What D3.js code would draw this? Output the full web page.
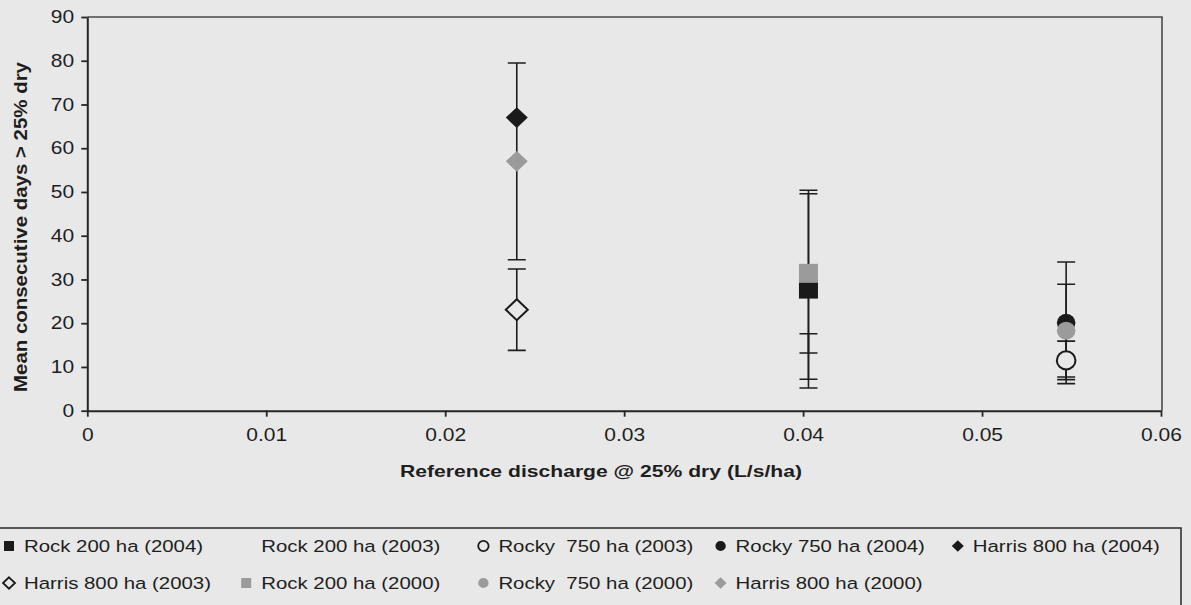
<!DOCTYPE html>
<html>
<head>
<meta charset="utf-8">
<script src="https://cdn.jsdelivr.net/npm/d3@7"></script>
<style>
  html, body { margin: 0; padding: 0; background: #e8e8e8; overflow: hidden; }
  svg { display: block; }
  text { font-family: "Liberation Sans", Arial, sans-serif; fill: #1e1e1e; }
</style>
</head>
<body>
<svg id="chart" width="1191" height="605"></svg>
<script>
// ---------------- data ----------------
const seriesNames = [
  "Rock 200 ha (2004)", "Rock 200 ha (2003)", "Rocky  750 ha (2003)",
  "Rocky 750 ha (2004)", "Harris 800 ha (2004)", "Harris 800 ha (2003)",
  "Rock 200 ha (2000)", "Rocky  750 ha (2000)", "Harris 800 ha (2000)"
];
const seriesX   = [0.0403, 0.0403, 0.0547, 0.0547, 0.0240, 0.0240, 0.0403, 0.0547, 0.0240];
const seriesY   = [27.8, 12.4, 11.5, 20.1, 67.0, 23.1, 31.4, 18.3, 57.0];
const seriesErr = [22.6, 5.2, 4.4, 13.9, null, 9.3, 18.2, 10.6, 22.5];
const xTicks = [0, 0.01, 0.02, 0.03, 0.04, 0.05, 0.06];
const yTicks = [0, 10, 20, 30, 40, 50, 60, 70, 80, 90];
const xTitle = "Reference discharge @ 25% dry (L/s/ha)";
const yTitle = "Mean consecutive days > 25% dry";

// ---------------- styles ----------------
const shapeOf = ["square", "none", "circle", "circle", "diamond", "diamond", "square", "circle", "diamond"];
const fillOf  = ["black", "none", "open", "black", "black", "open", "gray", "gray", "gray"];
const colour = { black: "#1a1a1a", gray: "#9b9b9b", open: "#e8e8e8" };
const BG = "#e8e8e8";
const STRETCH = 1.2;

const svg = d3.select("#chart");
const x = d3.scaleLinear().domain([0, 0.06]).range([87.3, 1161]);
const y = d3.scaleLinear().domain([0, 90]).range([410.7, 17]);

// plot border (top/right)
svg.append("path")
  .attr("d", `M${x(0)},${y(90)}H${x(0.06)+1}V${y(0)}`)
  .attr("fill", "none").attr("stroke", "#4a4a4a").attr("stroke-width", 1.6);

// axes
const yAxis = svg.append("g").attr("transform", `translate(${x(0)},0)`)
  .call(d3.axisLeft(y).tickValues(yTicks).tickSize(6).tickSizeOuter(0).tickPadding(5).tickFormat(d3.format("d")));
const xAxis = svg.append("g").attr("transform", `translate(0,${y(0)})`)
  .call(d3.axisBottom(x).tickValues(xTicks).tickSize(6).tickSizeOuter(0).tickPadding(18)
        .tickFormat(d => d === 0 ? "0" : d3.format(".2f")(d)));
[yAxis, xAxis].forEach(g => {
  g.select(".domain").attr("stroke", "#262626").attr("stroke-width", 2);
  g.selectAll(".tick line").attr("stroke", "#262626").attr("stroke-width", 1.8);
  g.selectAll(".tick text")
    .attr("font-size", 17.5).attr("fill", "#1e1e1e")
    .attr("font-family", "'Liberation Sans', Arial, sans-serif")
    .attr("transform", `scale(${STRETCH},1)`);
});
xAxis.selectAll(".tick text").attr("y", 18 / 1).attr("dy", "0.71em");
yAxis.selectAll(".tick text").attr("x", -11 / 1);

// axis titles
svg.append("text")
  .attr("transform", `translate(27,227) rotate(-90)`)
  .attr("text-anchor", "middle").attr("font-weight", "bold").attr("font-size", 17.5)
  .attr("textLength", 330).attr("lengthAdjust", "spacingAndGlyphs")
  .text(yTitle);
svg.append("text")
  .attr("x", 601).attr("y", 477)
  .attr("text-anchor", "middle").attr("font-weight", "bold").attr("font-size", 16.5)
  .attr("textLength", 402).attr("lengthAdjust", "spacingAndGlyphs")
  .text(xTitle);

// error bars
const idx = d3.range(seriesNames.length);
const eb = svg.append("g").attr("stroke", "#1e1e1e").attr("stroke-width", 1.6).attr("fill", "none");
idx.filter(i => seriesErr[i] != null).forEach(i => {
  const cx = x(seriesX[i]);
  const top = y(seriesY[i] + seriesErr[i]);
  const bot = y(seriesY[i] - seriesErr[i]);
  eb.append("path")
    .attr("d", `M${cx},${top}V${bot}M${cx-9},${top}H${cx+9}M${cx-9},${bot}H${cx+9}`);
});

// marker path builder
function markerPath(shape, cx, cy, s) {
  if (shape === "square") return `M${cx-s},${cy-s}H${cx+s}V${cy+s}H${cx-s}Z`;
  if (shape === "diamond") return `M${cx},${cy-s*0.95}L${cx+s},${cy}L${cx},${cy+s*0.95}L${cx-s},${cy}Z`;
  if (shape === "circle") {
    const r = s;
    return `M${cx-r},${cy}A${r},${r*0.97} 0 1,0 ${cx+r},${cy}A${r},${r*0.97} 0 1,0 ${cx-r},${cy}Z`;
  }
  return "";
}
const sizeOf = { square: 9.5, diamond: 11, circle: 9.3 };
const mk = svg.append("g");
idx.filter(i => shapeOf[i] !== "none").forEach(i => {
  const open = fillOf[i] === "open";
  mk.append("path")
    .attr("d", markerPath(shapeOf[i], x(seriesX[i]), y(seriesY[i]), sizeOf[shapeOf[i]]))
    .attr("fill", open ? BG : colour[fillOf[i]])
    .attr("stroke", open ? "#1a1a1a" : "none")
    .attr("stroke-width", open ? 2 : 0);
});

// legend
const lg = svg.append("g");
lg.append("rect").attr("x", -5).attr("y", 528).attr("width", 1186).attr("height", 90)
  .attr("fill", "none").attr("stroke", "#333").attr("stroke-width", 1.6);
const legSize = { square: 5, diamond: 6, circle: 5.2 };
idx.forEach(i => {
  const col = i % 5, row = Math.floor(i / 5);
  const mx = 9 + col * 237.2;
  const ty = 552 + row * 37;
  const my = ty - 6;
  if (shapeOf[i] !== "none") {
    const open = fillOf[i] === "open";
    lg.append("path")
      .attr("d", markerPath(shapeOf[i], mx, my, legSize[shapeOf[i]]))
      .attr("fill", open ? BG : colour[fillOf[i]])
      .attr("stroke", open ? "#1a1a1a" : "none")
      .attr("stroke-width", open ? 1.8 : 0);
  }
  lg.append("text")
    .attr("transform", `translate(${mx + 15},${ty}) scale(${STRETCH},1)`)
    .attr("font-size", 17)
    .attr("xml:space", "preserve")
    .style("white-space", "pre")
    .text(seriesNames[i]);
});
</script>
</body>
</html>
